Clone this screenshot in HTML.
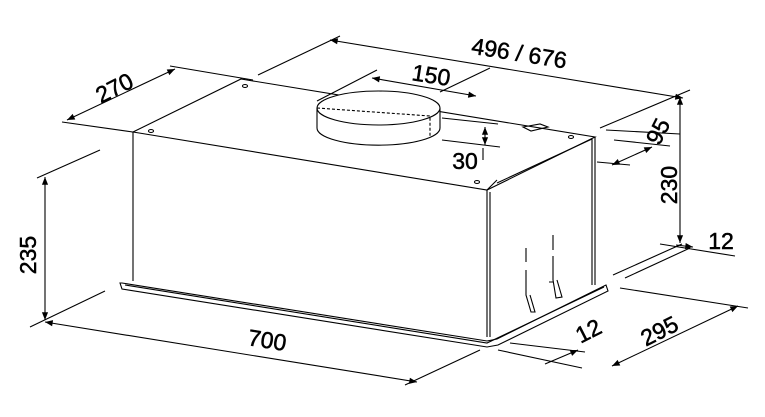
<html><body style="margin:0;background:#fff">
<svg width="765" height="417" viewBox="0 0 765 417" xmlns="http://www.w3.org/2000/svg" font-family="Liberation Sans, sans-serif">
<defs><marker id="a" viewBox="0 0 10 10" refX="10" refY="5" markerWidth="9" markerHeight="7" orient="auto-start-reverse"><path d="M0,1 L10,5 L0,9z" fill="#000"/></marker></defs>
<g stroke="#000" stroke-width="1.1" fill="none">
<path d="M133,132 L487,190 L595,137 L241,79 Z" fill="#fff"/>
<path d="M133,132 L133,281 M487,190 L487,337 M595,137 L595,285 M490,192 L490,337 M592,139 L592,285"/>
<path d="M487,190 L497,180 M592,139 L497,183"/>
<path d="M120,283 L122,289 L487,347 L498,345 L608,291 L606,285 L497,339 L487,341 L122,283 Z" fill="#fff"/>
<path d="M125,285 L487,343 L604,287"/>
<ellipse cx="151" cy="131" rx="2.5" ry="1.5"/><ellipse cx="245" cy="86" rx="2.5" ry="1.5"/><ellipse cx="477" cy="182" rx="2.5" ry="1.5"/><ellipse cx="571" cy="137" rx="2.5" ry="1.5"/>
<path d="M523,127 L540,124 L548,127 L531,131 Z"/>
<path d="M317,108 L317,128 A61,17 0 0 0 440,128 L440,108" fill="#fff"/>
<ellipse cx="378.5" cy="108" rx="61.5" ry="17" fill="#fff"/>
<path d="M317,108 L430,116 L430,136" stroke-dasharray="3,2"/>
<path d="M526,248 L526,262 M526,270 L526,295 L531,312 L535,312 L530,295 M553,235 L553,250 M553,256 L553,280 L556,298 L562,297 L557,280 M549,282 L553,282"/>
<path d="M258,75 L340,36 M600,128 L690,90 M62,122 L133,132 M170,66 L253,80 M317,101 L377,70 M440,92 L490,68 M442,118 L498,124 M442,140 L500,147 M483,148 L483,160 M606,130 L680,134 M614,140 L670,146 M597,162 L630,165 M660,244 L735,256 M613,275 L682,244 M625,278 L690,248 M620,288 L748,308 M510,343 L585,352 M498,350 L582,368 M37,178 L100,150 M30,327 L105,291 M405,385 L480,350"/>
<path d="M330,40 L683,98" marker-start="url(#a)" marker-end="url(#a)"/>
<path d="M67,120 L175,69" marker-start="url(#a)" marker-end="url(#a)"/>
<path d="M372,78 L476,96" marker-start="url(#a)" marker-end="url(#a)"/>
<path d="M485,127 L485,145" marker-start="url(#a)" marker-end="url(#a)"/>
<path d="M612,165 L652,147" marker-start="url(#a)" marker-end="url(#a)"/>
<path d="M680,97 L680,243" marker-start="url(#a)" marker-end="url(#a)"/>
<path d="M676,245 L693,247" marker-end="url(#a)"/>
<path d="M612,366 L738,306" marker-start="url(#a)" marker-end="url(#a)"/>
<path d="M545,364 L578,350" marker-end="url(#a)"/>
<path d="M45,177 L45,320" marker-start="url(#a)" marker-end="url(#a)"/>
<path d="M45,322 L417,382" marker-start="url(#a)" marker-end="url(#a)"/>
</g>
<g font-size="23" fill="#000" stroke="#000" stroke-width="0.5" text-anchor="middle">
<text transform="translate(518,61) rotate(9)">496 / 676</text>
<text transform="translate(118,95) rotate(-27)">270</text>
<text transform="translate(430,83) rotate(9)">150</text>
<text x="465" y="169">30</text>
<text transform="translate(665,135) rotate(-63)">95</text>
<text transform="translate(677,185) rotate(-90)">230</text>
<text x="721" y="249">12</text>
<text transform="translate(663,338) rotate(-27)">295</text>
<text transform="translate(592,338) rotate(-27)">12</text>
<text transform="translate(266,348) rotate(9)">700</text>
<text transform="translate(36,255) rotate(-90)">235</text>
</g>
</svg>
</body></html>
